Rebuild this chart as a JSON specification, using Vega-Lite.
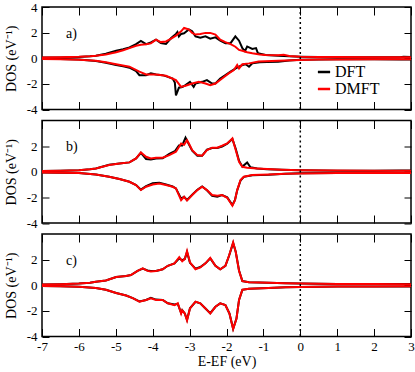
{
"$schema": "https://vega.github.io/schema/vega-lite/v6.json",
"padding": {"left": 3, "top": 0, "right": 5, "bottom": 5},
"spacing": 10.5,
"bounds": "flush",
"datasets": {"dos": [
{"p":"a","m":"DFT","s":"u","x":-7,"y":0.05},{"p":"a","m":"DFT","s":"u","x":-6.5,"y":0.06},{"p":"a","m":"DFT","s":"u","x":-6,"y":0.1},{"p":"a","m":"DFT","s":"u","x":-5.7,"y":0.15},{"p":"a","m":"DFT","s":"u","x":-5.54,"y":0.2},{"p":"a","m":"DFT","s":"u","x":-5.27,"y":0.35},{"p":"a","m":"DFT","s":"u","x":-4.99,"y":0.58},{"p":"a","m":"DFT","s":"u","x":-4.8,"y":0.7},{"p":"a","m":"DFT","s":"u","x":-4.63,"y":0.84},{"p":"a","m":"DFT","s":"u","x":-4.45,"y":1.1},{"p":"a","m":"DFT","s":"u","x":-4.32,"y":1.35},{"p":"a","m":"DFT","s":"u","x":-4.18,"y":1.1},{"p":"a","m":"DFT","s":"u","x":-4.05,"y":1.23},{"p":"a","m":"DFT","s":"u","x":-3.91,"y":1.45},{"p":"a","m":"DFT","s":"u","x":-3.78,"y":1.18},{"p":"a","m":"DFT","s":"u","x":-3.64,"y":1.12},{"p":"a","m":"DFT","s":"u","x":-3.5,"y":1.58},{"p":"a","m":"DFT","s":"u","x":-3.37,"y":1.9},{"p":"a","m":"DFT","s":"u","x":-3.33,"y":2.05},{"p":"a","m":"DFT","s":"u","x":-3.29,"y":1.7},{"p":"a","m":"DFT","s":"u","x":-3.23,"y":1.9},{"p":"a","m":"DFT","s":"u","x":-3.15,"y":1.95},{"p":"a","m":"DFT","s":"u","x":-3.02,"y":2.24},{"p":"a","m":"DFT","s":"u","x":-2.93,"y":2.1},{"p":"a","m":"DFT","s":"u","x":-2.84,"y":1.71},{"p":"a","m":"DFT","s":"u","x":-2.71,"y":1.6},{"p":"a","m":"DFT","s":"u","x":-2.57,"y":1.71},{"p":"a","m":"DFT","s":"u","x":-2.44,"y":1.53},{"p":"a","m":"DFT","s":"u","x":-2.3,"y":1.63},{"p":"a","m":"DFT","s":"u","x":-2.17,"y":1.37},{"p":"a","m":"DFT","s":"u","x":-2.03,"y":1.18},{"p":"a","m":"DFT","s":"u","x":-1.89,"y":1.18},{"p":"a","m":"DFT","s":"u","x":-1.76,"y":1.71},{"p":"a","m":"DFT","s":"u","x":-1.66,"y":1.37},{"p":"a","m":"DFT","s":"u","x":-1.57,"y":0.79},{"p":"a","m":"DFT","s":"u","x":-1.5,"y":0.55},{"p":"a","m":"DFT","s":"u","x":-1.44,"y":0.92},{"p":"a","m":"DFT","s":"u","x":-1.3,"y":0.73},{"p":"a","m":"DFT","s":"u","x":-1.2,"y":0.79},{"p":"a","m":"DFT","s":"u","x":-1.15,"y":0.4},{"p":"a","m":"DFT","s":"u","x":-0.94,"y":0.26},{"p":"a","m":"DFT","s":"u","x":-0.6,"y":0.2},{"p":"a","m":"DFT","s":"u","x":-0.3,"y":0.15},{"p":"a","m":"DFT","s":"u","x":0,"y":0.12},{"p":"a","m":"DFT","s":"u","x":0.5,"y":0.1},{"p":"a","m":"DFT","s":"u","x":1,"y":0.08},{"p":"a","m":"DFT","s":"u","x":2,"y":0.07},{"p":"a","m":"DFT","s":"u","x":2.7,"y":0.08},{"p":"a","m":"DFT","s":"u","x":2.8,"y":0.12},{"p":"a","m":"DFT","s":"u","x":3,"y":0.1},
{"p":"a","m":"DMFT","s":"u","x":-7,"y":0.05},{"p":"a","m":"DMFT","s":"u","x":-6.5,"y":0.07},{"p":"a","m":"DMFT","s":"u","x":-6,"y":0.11},{"p":"a","m":"DMFT","s":"u","x":-5.7,"y":0.16},{"p":"a","m":"DMFT","s":"u","x":-5.54,"y":0.2},{"p":"a","m":"DMFT","s":"u","x":-5.27,"y":0.3},{"p":"a","m":"DMFT","s":"u","x":-4.99,"y":0.47},{"p":"a","m":"DMFT","s":"u","x":-4.8,"y":0.62},{"p":"a","m":"DMFT","s":"u","x":-4.63,"y":0.79},{"p":"a","m":"DMFT","s":"u","x":-4.45,"y":0.98},{"p":"a","m":"DMFT","s":"u","x":-4.32,"y":1.05},{"p":"a","m":"DMFT","s":"u","x":-4.18,"y":1.1},{"p":"a","m":"DMFT","s":"u","x":-4.05,"y":1.16},{"p":"a","m":"DMFT","s":"u","x":-3.91,"y":1.45},{"p":"a","m":"DMFT","s":"u","x":-3.78,"y":1.26},{"p":"a","m":"DMFT","s":"u","x":-3.64,"y":1.31},{"p":"a","m":"DMFT","s":"u","x":-3.5,"y":1.53},{"p":"a","m":"DMFT","s":"u","x":-3.37,"y":1.77},{"p":"a","m":"DMFT","s":"u","x":-3.23,"y":2.1},{"p":"a","m":"DMFT","s":"u","x":-3.15,"y":2.37},{"p":"a","m":"DMFT","s":"u","x":-3.08,"y":2.3},{"p":"a","m":"DMFT","s":"u","x":-3.02,"y":2.24},{"p":"a","m":"DMFT","s":"u","x":-2.93,"y":1.98},{"p":"a","m":"DMFT","s":"u","x":-2.84,"y":1.85},{"p":"a","m":"DMFT","s":"u","x":-2.71,"y":1.9},{"p":"a","m":"DMFT","s":"u","x":-2.57,"y":1.98},{"p":"a","m":"DMFT","s":"u","x":-2.44,"y":1.98},{"p":"a","m":"DMFT","s":"u","x":-2.3,"y":1.85},{"p":"a","m":"DMFT","s":"u","x":-2.17,"y":1.45},{"p":"a","m":"DMFT","s":"u","x":-2.03,"y":1.26},{"p":"a","m":"DMFT","s":"u","x":-1.89,"y":1.1},{"p":"a","m":"DMFT","s":"u","x":-1.76,"y":0.9},{"p":"a","m":"DMFT","s":"u","x":-1.66,"y":0.65},{"p":"a","m":"DMFT","s":"u","x":-1.57,"y":0.58},{"p":"a","m":"DMFT","s":"u","x":-1.44,"y":0.47},{"p":"a","m":"DMFT","s":"u","x":-1.3,"y":0.39},{"p":"a","m":"DMFT","s":"u","x":-1.1,"y":0.3},{"p":"a","m":"DMFT","s":"u","x":-0.94,"y":0.26},{"p":"a","m":"DMFT","s":"u","x":-0.6,"y":0.24},{"p":"a","m":"DMFT","s":"u","x":-0.45,"y":0.28},{"p":"a","m":"DMFT","s":"u","x":-0.3,"y":0.18},{"p":"a","m":"DMFT","s":"u","x":0,"y":0.12},{"p":"a","m":"DMFT","s":"u","x":0.5,"y":0.1},{"p":"a","m":"DMFT","s":"u","x":1,"y":0.09},{"p":"a","m":"DMFT","s":"u","x":2,"y":0.08},{"p":"a","m":"DMFT","s":"u","x":3,"y":0.08},
{"p":"a","m":"DFT","s":"d","x":-7,"y":-0.05},{"p":"a","m":"DFT","s":"d","x":-6.5,"y":-0.06},{"p":"a","m":"DFT","s":"d","x":-6,"y":-0.1},{"p":"a","m":"DFT","s":"d","x":-5.54,"y":-0.22},{"p":"a","m":"DFT","s":"d","x":-5.27,"y":-0.35},{"p":"a","m":"DFT","s":"d","x":-4.99,"y":-0.53},{"p":"a","m":"DFT","s":"d","x":-4.8,"y":-0.63},{"p":"a","m":"DFT","s":"d","x":-4.63,"y":-0.74},{"p":"a","m":"DFT","s":"d","x":-4.45,"y":-1.0},{"p":"a","m":"DFT","s":"d","x":-4.36,"y":-1.32},{"p":"a","m":"DFT","s":"d","x":-4.18,"y":-1.32},{"p":"a","m":"DFT","s":"d","x":-4.05,"y":-1.18},{"p":"a","m":"DFT","s":"d","x":-3.91,"y":-1.26},{"p":"a","m":"DFT","s":"d","x":-3.73,"y":-1.32},{"p":"a","m":"DFT","s":"d","x":-3.59,"y":-1.45},{"p":"a","m":"DFT","s":"d","x":-3.46,"y":-1.58},{"p":"a","m":"DFT","s":"d","x":-3.4,"y":-1.9},{"p":"a","m":"DFT","s":"d","x":-3.37,"y":-2.9},{"p":"a","m":"DFT","s":"d","x":-3.33,"y":-2.6},{"p":"a","m":"DFT","s":"d","x":-3.29,"y":-2.3},{"p":"a","m":"DFT","s":"d","x":-3.2,"y":-2.24},{"p":"a","m":"DFT","s":"d","x":-3.11,"y":-2.1},{"p":"a","m":"DFT","s":"d","x":-2.99,"y":-1.84},{"p":"a","m":"DFT","s":"d","x":-2.89,"y":-2.24},{"p":"a","m":"DFT","s":"d","x":-2.84,"y":-1.97},{"p":"a","m":"DFT","s":"d","x":-2.66,"y":-1.84},{"p":"a","m":"DFT","s":"d","x":-2.53,"y":-1.71},{"p":"a","m":"DFT","s":"d","x":-2.39,"y":-1.97},{"p":"a","m":"DFT","s":"d","x":-2.3,"y":-1.97},{"p":"a","m":"DFT","s":"d","x":-2.17,"y":-1.58},{"p":"a","m":"DFT","s":"d","x":-2.03,"y":-1.32},{"p":"a","m":"DFT","s":"d","x":-1.89,"y":-1.05},{"p":"a","m":"DFT","s":"d","x":-1.75,"y":-0.79},{"p":"a","m":"DFT","s":"d","x":-1.66,"y":-0.66},{"p":"a","m":"DFT","s":"d","x":-1.57,"y":-0.53},{"p":"a","m":"DFT","s":"d","x":-1.48,"y":-0.47},{"p":"a","m":"DFT","s":"d","x":-1.39,"y":-0.66},{"p":"a","m":"DFT","s":"d","x":-1.3,"y":-0.4},{"p":"a","m":"DFT","s":"d","x":-1.1,"y":-0.32},{"p":"a","m":"DFT","s":"d","x":-0.9,"y":-0.3},{"p":"a","m":"DFT","s":"d","x":-0.6,"y":-0.28},{"p":"a","m":"DFT","s":"d","x":-0.3,"y":-0.18},{"p":"a","m":"DFT","s":"d","x":0,"y":-0.12},{"p":"a","m":"DFT","s":"d","x":1,"y":-0.08},{"p":"a","m":"DFT","s":"d","x":2,"y":-0.07},{"p":"a","m":"DFT","s":"d","x":2.75,"y":-0.09},{"p":"a","m":"DFT","s":"d","x":3,"y":-0.1},
{"p":"a","m":"DMFT","s":"d","x":-7,"y":-0.05},{"p":"a","m":"DMFT","s":"d","x":-6.5,"y":-0.07},{"p":"a","m":"DMFT","s":"d","x":-6,"y":-0.11},{"p":"a","m":"DMFT","s":"d","x":-5.54,"y":-0.2},{"p":"a","m":"DMFT","s":"d","x":-5.27,"y":-0.32},{"p":"a","m":"DMFT","s":"d","x":-4.99,"y":-0.47},{"p":"a","m":"DMFT","s":"d","x":-4.63,"y":-0.66},{"p":"a","m":"DMFT","s":"d","x":-4.36,"y":-1.05},{"p":"a","m":"DMFT","s":"d","x":-4.18,"y":-1.26},{"p":"a","m":"DMFT","s":"d","x":-3.91,"y":-1.26},{"p":"a","m":"DMFT","s":"d","x":-3.64,"y":-1.37},{"p":"a","m":"DMFT","s":"d","x":-3.37,"y":-1.71},{"p":"a","m":"DMFT","s":"d","x":-3.23,"y":-2.24},{"p":"a","m":"DMFT","s":"d","x":-3.11,"y":-2.15},{"p":"a","m":"DMFT","s":"d","x":-2.93,"y":-1.97},{"p":"a","m":"DMFT","s":"d","x":-2.75,"y":-1.84},{"p":"a","m":"DMFT","s":"d","x":-2.57,"y":-1.97},{"p":"a","m":"DMFT","s":"d","x":-2.44,"y":-2.1},{"p":"a","m":"DMFT","s":"d","x":-2.3,"y":-1.97},{"p":"a","m":"DMFT","s":"d","x":-2.12,"y":-1.58},{"p":"a","m":"DMFT","s":"d","x":-1.94,"y":-1.18},{"p":"a","m":"DMFT","s":"d","x":-1.8,"y":-0.92},{"p":"a","m":"DMFT","s":"d","x":-1.71,"y":-0.53},{"p":"a","m":"DMFT","s":"d","x":-1.66,"y":-0.79},{"p":"a","m":"DMFT","s":"d","x":-1.57,"y":-0.47},{"p":"a","m":"DMFT","s":"d","x":-1.39,"y":-0.4},{"p":"a","m":"DMFT","s":"d","x":-1.13,"y":-0.26},{"p":"a","m":"DMFT","s":"d","x":-0.6,"y":-0.2},{"p":"a","m":"DMFT","s":"d","x":0,"y":-0.14},{"p":"a","m":"DMFT","s":"d","x":0.5,"y":-0.1},{"p":"a","m":"DMFT","s":"d","x":1,"y":-0.09},{"p":"a","m":"DMFT","s":"d","x":2,"y":-0.08},{"p":"a","m":"DMFT","s":"d","x":3,"y":-0.08},
{"p":"b","m":"DFT","s":"u","x":-7,"y":0.05},{"p":"b","m":"DFT","s":"u","x":-6.5,"y":0.07},{"p":"b","m":"DFT","s":"u","x":-6,"y":0.12},{"p":"b","m":"DFT","s":"u","x":-5.7,"y":0.2},{"p":"b","m":"DFT","s":"u","x":-5.54,"y":0.26},{"p":"b","m":"DFT","s":"u","x":-5.18,"y":0.55},{"p":"b","m":"DFT","s":"u","x":-4.9,"y":0.65},{"p":"b","m":"DFT","s":"u","x":-4.63,"y":0.73},{"p":"b","m":"DFT","s":"u","x":-4.45,"y":1.04},{"p":"b","m":"DFT","s":"u","x":-4.32,"y":1.48},{"p":"b","m":"DFT","s":"u","x":-4.18,"y":1.0},{"p":"b","m":"DFT","s":"u","x":-4.05,"y":0.95},{"p":"b","m":"DFT","s":"u","x":-3.91,"y":1.04},{"p":"b","m":"DFT","s":"u","x":-3.73,"y":1.05},{"p":"b","m":"DFT","s":"u","x":-3.55,"y":1.4},{"p":"b","m":"DFT","s":"u","x":-3.4,"y":1.6},{"p":"b","m":"DFT","s":"u","x":-3.29,"y":2.05},{"p":"b","m":"DFT","s":"u","x":-3.2,"y":2.05},{"p":"b","m":"DFT","s":"u","x":-3.11,"y":2.66},{"p":"b","m":"DFT","s":"u","x":-3.02,"y":2.15},{"p":"b","m":"DFT","s":"u","x":-2.93,"y":1.65},{"p":"b","m":"DFT","s":"u","x":-2.79,"y":1.25},{"p":"b","m":"DFT","s":"u","x":-2.66,"y":1.25},{"p":"b","m":"DFT","s":"u","x":-2.53,"y":1.72},{"p":"b","m":"DFT","s":"u","x":-2.39,"y":1.85},{"p":"b","m":"DFT","s":"u","x":-2.25,"y":1.85},{"p":"b","m":"DFT","s":"u","x":-2.12,"y":1.97},{"p":"b","m":"DFT","s":"u","x":-1.98,"y":2.2},{"p":"b","m":"DFT","s":"u","x":-1.84,"y":2.55},{"p":"b","m":"DFT","s":"u","x":-1.75,"y":1.8},{"p":"b","m":"DFT","s":"u","x":-1.66,"y":0.85},{"p":"b","m":"DFT","s":"u","x":-1.57,"y":0.4},{"p":"b","m":"DFT","s":"u","x":-1.44,"y":0.73},{"p":"b","m":"DFT","s":"u","x":-1.35,"y":0.35},{"p":"b","m":"DFT","s":"u","x":-1.17,"y":0.25},{"p":"b","m":"DFT","s":"u","x":-0.9,"y":0.2},{"p":"b","m":"DFT","s":"u","x":-0.5,"y":0.15},{"p":"b","m":"DFT","s":"u","x":0,"y":0.11},{"p":"b","m":"DFT","s":"u","x":1,"y":0.08},{"p":"b","m":"DFT","s":"u","x":2,"y":0.07},{"p":"b","m":"DFT","s":"u","x":2.75,"y":0.09},{"p":"b","m":"DFT","s":"u","x":3,"y":0.1},
{"p":"b","m":"DMFT","s":"u","x":-7,"y":0.05},{"p":"b","m":"DMFT","s":"u","x":-6.5,"y":0.07},{"p":"b","m":"DMFT","s":"u","x":-6,"y":0.12},{"p":"b","m":"DMFT","s":"u","x":-5.7,"y":0.2},{"p":"b","m":"DMFT","s":"u","x":-5.54,"y":0.26},{"p":"b","m":"DMFT","s":"u","x":-5.18,"y":0.52},{"p":"b","m":"DMFT","s":"u","x":-4.9,"y":0.65},{"p":"b","m":"DMFT","s":"u","x":-4.63,"y":0.73},{"p":"b","m":"DMFT","s":"u","x":-4.45,"y":1.04},{"p":"b","m":"DMFT","s":"u","x":-4.32,"y":1.51},{"p":"b","m":"DMFT","s":"u","x":-4.18,"y":1.17},{"p":"b","m":"DMFT","s":"u","x":-4.05,"y":1.04},{"p":"b","m":"DMFT","s":"u","x":-3.91,"y":1.09},{"p":"b","m":"DMFT","s":"u","x":-3.73,"y":1.09},{"p":"b","m":"DMFT","s":"u","x":-3.55,"y":1.3},{"p":"b","m":"DMFT","s":"u","x":-3.37,"y":1.56},{"p":"b","m":"DMFT","s":"u","x":-3.23,"y":2.2},{"p":"b","m":"DMFT","s":"u","x":-3.15,"y":2.1},{"p":"b","m":"DMFT","s":"u","x":-3.07,"y":2.47},{"p":"b","m":"DMFT","s":"u","x":-3.02,"y":2.21},{"p":"b","m":"DMFT","s":"u","x":-2.93,"y":1.69},{"p":"b","m":"DMFT","s":"u","x":-2.79,"y":1.3},{"p":"b","m":"DMFT","s":"u","x":-2.66,"y":1.25},{"p":"b","m":"DMFT","s":"u","x":-2.53,"y":1.69},{"p":"b","m":"DMFT","s":"u","x":-2.39,"y":1.88},{"p":"b","m":"DMFT","s":"u","x":-2.25,"y":1.88},{"p":"b","m":"DMFT","s":"u","x":-2.12,"y":2.03},{"p":"b","m":"DMFT","s":"u","x":-1.98,"y":2.21},{"p":"b","m":"DMFT","s":"u","x":-1.84,"y":2.6},{"p":"b","m":"DMFT","s":"u","x":-1.75,"y":1.69},{"p":"b","m":"DMFT","s":"u","x":-1.66,"y":0.78},{"p":"b","m":"DMFT","s":"u","x":-1.57,"y":0.39},{"p":"b","m":"DMFT","s":"u","x":-1.44,"y":0.31},{"p":"b","m":"DMFT","s":"u","x":-1.17,"y":0.26},{"p":"b","m":"DMFT","s":"u","x":-0.9,"y":0.21},{"p":"b","m":"DMFT","s":"u","x":-0.5,"y":0.16},{"p":"b","m":"DMFT","s":"u","x":0,"y":0.12},{"p":"b","m":"DMFT","s":"u","x":1,"y":0.09},{"p":"b","m":"DMFT","s":"u","x":2,"y":0.08},{"p":"b","m":"DMFT","s":"u","x":3,"y":0.08},
{"p":"b","m":"DFT","s":"d","x":-7,"y":-0.05},{"p":"b","m":"DFT","s":"d","x":-6.5,"y":-0.07},{"p":"b","m":"DFT","s":"d","x":-6,"y":-0.1},{"p":"b","m":"DFT","s":"d","x":-5.54,"y":-0.21},{"p":"b","m":"DFT","s":"d","x":-5.18,"y":-0.39},{"p":"b","m":"DFT","s":"d","x":-4.9,"y":-0.57},{"p":"b","m":"DFT","s":"d","x":-4.63,"y":-0.78},{"p":"b","m":"DFT","s":"d","x":-4.45,"y":-1.04},{"p":"b","m":"DFT","s":"d","x":-4.32,"y":-1.4},{"p":"b","m":"DFT","s":"d","x":-4.18,"y":-1.12},{"p":"b","m":"DFT","s":"d","x":-4.0,"y":-0.9},{"p":"b","m":"DFT","s":"d","x":-3.82,"y":-0.85},{"p":"b","m":"DFT","s":"d","x":-3.64,"y":-1.0},{"p":"b","m":"DFT","s":"d","x":-3.46,"y":-1.15},{"p":"b","m":"DFT","s":"d","x":-3.37,"y":-1.3},{"p":"b","m":"DFT","s":"d","x":-3.23,"y":-2.1},{"p":"b","m":"DFT","s":"d","x":-3.15,"y":-1.95},{"p":"b","m":"DFT","s":"d","x":-3.07,"y":-2.2},{"p":"b","m":"DFT","s":"d","x":-2.93,"y":-1.8},{"p":"b","m":"DFT","s":"d","x":-2.79,"y":-1.4},{"p":"b","m":"DFT","s":"d","x":-2.66,"y":-1.15},{"p":"b","m":"DFT","s":"d","x":-2.53,"y":-1.45},{"p":"b","m":"DFT","s":"d","x":-2.39,"y":-1.88},{"p":"b","m":"DFT","s":"d","x":-2.25,"y":-1.95},{"p":"b","m":"DFT","s":"d","x":-2.12,"y":-1.82},{"p":"b","m":"DFT","s":"d","x":-1.98,"y":-2.0},{"p":"b","m":"DFT","s":"d","x":-1.84,"y":-2.6},{"p":"b","m":"DFT","s":"d","x":-1.77,"y":-2.2},{"p":"b","m":"DFT","s":"d","x":-1.71,"y":-1.45},{"p":"b","m":"DFT","s":"d","x":-1.62,"y":-0.68},{"p":"b","m":"DFT","s":"d","x":-1.53,"y":-0.4},{"p":"b","m":"DFT","s":"d","x":-1.3,"y":-0.27},{"p":"b","m":"DFT","s":"d","x":-0.86,"y":-0.24},{"p":"b","m":"DFT","s":"d","x":-0.4,"y":-0.16},{"p":"b","m":"DFT","s":"d","x":0,"y":-0.12},{"p":"b","m":"DFT","s":"d","x":1,"y":-0.09},{"p":"b","m":"DFT","s":"d","x":2,"y":-0.08},{"p":"b","m":"DFT","s":"d","x":3,"y":-0.09},
{"p":"b","m":"DMFT","s":"d","x":-7,"y":-0.05},{"p":"b","m":"DMFT","s":"d","x":-6.5,"y":-0.07},{"p":"b","m":"DMFT","s":"d","x":-6,"y":-0.1},{"p":"b","m":"DMFT","s":"d","x":-5.54,"y":-0.21},{"p":"b","m":"DMFT","s":"d","x":-5.18,"y":-0.39},{"p":"b","m":"DMFT","s":"d","x":-4.9,"y":-0.57},{"p":"b","m":"DMFT","s":"d","x":-4.63,"y":-0.78},{"p":"b","m":"DMFT","s":"d","x":-4.45,"y":-1.04},{"p":"b","m":"DMFT","s":"d","x":-4.32,"y":-1.43},{"p":"b","m":"DMFT","s":"d","x":-4.18,"y":-1.17},{"p":"b","m":"DMFT","s":"d","x":-4.0,"y":-0.99},{"p":"b","m":"DMFT","s":"d","x":-3.82,"y":-0.91},{"p":"b","m":"DMFT","s":"d","x":-3.64,"y":-1.04},{"p":"b","m":"DMFT","s":"d","x":-3.46,"y":-1.17},{"p":"b","m":"DMFT","s":"d","x":-3.37,"y":-1.3},{"p":"b","m":"DMFT","s":"d","x":-3.23,"y":-2.21},{"p":"b","m":"DMFT","s":"d","x":-3.15,"y":-1.95},{"p":"b","m":"DMFT","s":"d","x":-3.07,"y":-2.25},{"p":"b","m":"DMFT","s":"d","x":-2.93,"y":-1.82},{"p":"b","m":"DMFT","s":"d","x":-2.79,"y":-1.43},{"p":"b","m":"DMFT","s":"d","x":-2.66,"y":-1.17},{"p":"b","m":"DMFT","s":"d","x":-2.53,"y":-1.43},{"p":"b","m":"DMFT","s":"d","x":-2.39,"y":-1.82},{"p":"b","m":"DMFT","s":"d","x":-2.25,"y":-1.88},{"p":"b","m":"DMFT","s":"d","x":-2.12,"y":-1.82},{"p":"b","m":"DMFT","s":"d","x":-1.98,"y":-2.03},{"p":"b","m":"DMFT","s":"d","x":-1.84,"y":-2.65},{"p":"b","m":"DMFT","s":"d","x":-1.77,"y":-2.21},{"p":"b","m":"DMFT","s":"d","x":-1.71,"y":-1.43},{"p":"b","m":"DMFT","s":"d","x":-1.62,"y":-0.65},{"p":"b","m":"DMFT","s":"d","x":-1.53,"y":-0.39},{"p":"b","m":"DMFT","s":"d","x":-1.3,"y":-0.26},{"p":"b","m":"DMFT","s":"d","x":-0.86,"y":-0.21},{"p":"b","m":"DMFT","s":"d","x":-0.4,"y":-0.16},{"p":"b","m":"DMFT","s":"d","x":0,"y":-0.13},{"p":"b","m":"DMFT","s":"d","x":1,"y":-0.1},{"p":"b","m":"DMFT","s":"d","x":2,"y":-0.09},{"p":"b","m":"DMFT","s":"d","x":3,"y":-0.09},
{"p":"c","m":"DFT","s":"u","x":-7,"y":0.06},{"p":"c","m":"DFT","s":"u","x":-6.5,"y":0.08},{"p":"c","m":"DFT","s":"u","x":-6,"y":0.13},{"p":"c","m":"DFT","s":"u","x":-5.7,"y":0.2},{"p":"c","m":"DFT","s":"u","x":-5.54,"y":0.27},{"p":"c","m":"DFT","s":"u","x":-5.27,"y":0.37},{"p":"c","m":"DFT","s":"u","x":-4.99,"y":0.64},{"p":"c","m":"DFT","s":"u","x":-4.72,"y":0.72},{"p":"c","m":"DFT","s":"u","x":-4.59,"y":0.8},{"p":"c","m":"DFT","s":"u","x":-4.41,"y":1.12},{"p":"c","m":"DFT","s":"u","x":-4.27,"y":1.3},{"p":"c","m":"DFT","s":"u","x":-4.14,"y":1.15},{"p":"c","m":"DFT","s":"u","x":-4.05,"y":1.12},{"p":"c","m":"DFT","s":"u","x":-3.91,"y":1.12},{"p":"c","m":"DFT","s":"u","x":-3.73,"y":1.25},{"p":"c","m":"DFT","s":"u","x":-3.59,"y":1.52},{"p":"c","m":"DFT","s":"u","x":-3.41,"y":1.71},{"p":"c","m":"DFT","s":"u","x":-3.28,"y":2.1},{"p":"c","m":"DFT","s":"u","x":-3.2,"y":1.95},{"p":"c","m":"DFT","s":"u","x":-3.13,"y":2.05},{"p":"c","m":"DFT","s":"u","x":-3.07,"y":2.6},{"p":"c","m":"DFT","s":"u","x":-2.99,"y":1.75},{"p":"c","m":"DFT","s":"u","x":-2.84,"y":1.3},{"p":"c","m":"DFT","s":"u","x":-2.71,"y":1.42},{"p":"c","m":"DFT","s":"u","x":-2.57,"y":1.71},{"p":"c","m":"DFT","s":"u","x":-2.44,"y":2.1},{"p":"c","m":"DFT","s":"u","x":-2.3,"y":1.52},{"p":"c","m":"DFT","s":"u","x":-2.17,"y":1.25},{"p":"c","m":"DFT","s":"u","x":-2.03,"y":1.52},{"p":"c","m":"DFT","s":"u","x":-1.93,"y":2.3},{"p":"c","m":"DFT","s":"u","x":-1.82,"y":3.3},{"p":"c","m":"DFT","s":"u","x":-1.75,"y":2.62},{"p":"c","m":"DFT","s":"u","x":-1.66,"y":1.15},{"p":"c","m":"DFT","s":"u","x":-1.57,"y":0.33},{"p":"c","m":"DFT","s":"u","x":-1.39,"y":0.24},{"p":"c","m":"DFT","s":"u","x":-0.86,"y":0.19},{"p":"c","m":"DFT","s":"u","x":-0.4,"y":0.15},{"p":"c","m":"DFT","s":"u","x":0,"y":0.13},{"p":"c","m":"DFT","s":"u","x":1,"y":0.1},{"p":"c","m":"DFT","s":"u","x":2,"y":0.09},{"p":"c","m":"DFT","s":"u","x":2.75,"y":0.1},{"p":"c","m":"DFT","s":"u","x":3,"y":0.1},
{"p":"c","m":"DMFT","s":"u","x":-7,"y":0.05},{"p":"c","m":"DMFT","s":"u","x":-6.5,"y":0.08},{"p":"c","m":"DMFT","s":"u","x":-6,"y":0.13},{"p":"c","m":"DMFT","s":"u","x":-5.7,"y":0.2},{"p":"c","m":"DMFT","s":"u","x":-5.54,"y":0.27},{"p":"c","m":"DMFT","s":"u","x":-5.27,"y":0.37},{"p":"c","m":"DMFT","s":"u","x":-4.99,"y":0.64},{"p":"c","m":"DMFT","s":"u","x":-4.72,"y":0.72},{"p":"c","m":"DMFT","s":"u","x":-4.59,"y":0.8},{"p":"c","m":"DMFT","s":"u","x":-4.41,"y":1.12},{"p":"c","m":"DMFT","s":"u","x":-4.27,"y":1.31},{"p":"c","m":"DMFT","s":"u","x":-4.14,"y":1.12},{"p":"c","m":"DMFT","s":"u","x":-4.05,"y":1.07},{"p":"c","m":"DMFT","s":"u","x":-3.91,"y":1.12},{"p":"c","m":"DMFT","s":"u","x":-3.73,"y":1.25},{"p":"c","m":"DMFT","s":"u","x":-3.59,"y":1.52},{"p":"c","m":"DMFT","s":"u","x":-3.41,"y":1.71},{"p":"c","m":"DMFT","s":"u","x":-3.28,"y":2.19},{"p":"c","m":"DMFT","s":"u","x":-3.2,"y":1.87},{"p":"c","m":"DMFT","s":"u","x":-3.13,"y":2.05},{"p":"c","m":"DMFT","s":"u","x":-3.07,"y":2.67},{"p":"c","m":"DMFT","s":"u","x":-2.99,"y":1.79},{"p":"c","m":"DMFT","s":"u","x":-2.84,"y":1.25},{"p":"c","m":"DMFT","s":"u","x":-2.71,"y":1.39},{"p":"c","m":"DMFT","s":"u","x":-2.57,"y":1.71},{"p":"c","m":"DMFT","s":"u","x":-2.44,"y":2.13},{"p":"c","m":"DMFT","s":"u","x":-2.3,"y":1.52},{"p":"c","m":"DMFT","s":"u","x":-2.17,"y":1.25},{"p":"c","m":"DMFT","s":"u","x":-2.03,"y":1.52},{"p":"c","m":"DMFT","s":"u","x":-1.93,"y":2.32},{"p":"c","m":"DMFT","s":"u","x":-1.82,"y":3.35},{"p":"c","m":"DMFT","s":"u","x":-1.75,"y":2.59},{"p":"c","m":"DMFT","s":"u","x":-1.66,"y":1.12},{"p":"c","m":"DMFT","s":"u","x":-1.57,"y":0.32},{"p":"c","m":"DMFT","s":"u","x":-1.39,"y":0.24},{"p":"c","m":"DMFT","s":"u","x":-0.86,"y":0.19},{"p":"c","m":"DMFT","s":"u","x":-0.4,"y":0.15},{"p":"c","m":"DMFT","s":"u","x":0,"y":0.13},{"p":"c","m":"DMFT","s":"u","x":1,"y":0.1},{"p":"c","m":"DMFT","s":"u","x":2,"y":0.09},{"p":"c","m":"DMFT","s":"u","x":3,"y":0.08},
{"p":"c","m":"DFT","s":"d","x":-7,"y":-0.06},{"p":"c","m":"DFT","s":"d","x":-6.5,"y":-0.08},{"p":"c","m":"DFT","s":"d","x":-6,"y":-0.12},{"p":"c","m":"DFT","s":"d","x":-5.54,"y":-0.21},{"p":"c","m":"DFT","s":"d","x":-5.27,"y":-0.35},{"p":"c","m":"DFT","s":"d","x":-4.99,"y":-0.61},{"p":"c","m":"DFT","s":"d","x":-4.72,"y":-0.8},{"p":"c","m":"DFT","s":"d","x":-4.54,"y":-1.01},{"p":"c","m":"DFT","s":"d","x":-4.36,"y":-1.26},{"p":"c","m":"DFT","s":"d","x":-4.18,"y":-1.15},{"p":"c","m":"DFT","s":"d","x":-4.05,"y":-0.98},{"p":"c","m":"DFT","s":"d","x":-3.91,"y":-1.12},{"p":"c","m":"DFT","s":"d","x":-3.73,"y":-1.15},{"p":"c","m":"DFT","s":"d","x":-3.59,"y":-1.41},{"p":"c","m":"DFT","s":"d","x":-3.41,"y":-1.5},{"p":"c","m":"DFT","s":"d","x":-3.32,"y":-1.45},{"p":"c","m":"DFT","s":"d","x":-3.23,"y":-2.15},{"p":"c","m":"DFT","s":"d","x":-3.2,"y":-1.95},{"p":"c","m":"DFT","s":"d","x":-3.13,"y":-2.2},{"p":"c","m":"DFT","s":"d","x":-3.07,"y":-2.7},{"p":"c","m":"DFT","s":"d","x":-2.99,"y":-1.8},{"p":"c","m":"DFT","s":"d","x":-2.84,"y":-1.3},{"p":"c","m":"DFT","s":"d","x":-2.71,"y":-1.41},{"p":"c","m":"DFT","s":"d","x":-2.57,"y":-1.81},{"p":"c","m":"DFT","s":"d","x":-2.44,"y":-2.18},{"p":"c","m":"DFT","s":"d","x":-2.3,"y":-1.68},{"p":"c","m":"DFT","s":"d","x":-2.17,"y":-1.41},{"p":"c","m":"DFT","s":"d","x":-2.03,"y":-1.55},{"p":"c","m":"DFT","s":"d","x":-1.92,"y":-2.2},{"p":"c","m":"DFT","s":"d","x":-1.82,"y":-3.4},{"p":"c","m":"DFT","s":"d","x":-1.73,"y":-2.6},{"p":"c","m":"DFT","s":"d","x":-1.66,"y":-1.15},{"p":"c","m":"DFT","s":"d","x":-1.57,"y":-0.36},{"p":"c","m":"DFT","s":"d","x":-1.39,"y":-0.27},{"p":"c","m":"DFT","s":"d","x":-0.86,"y":-0.21},{"p":"c","m":"DFT","s":"d","x":-0.4,"y":-0.16},{"p":"c","m":"DFT","s":"d","x":0,"y":-0.14},{"p":"c","m":"DFT","s":"d","x":1,"y":-0.1},{"p":"c","m":"DFT","s":"d","x":2,"y":-0.09},{"p":"c","m":"DFT","s":"d","x":2.75,"y":-0.1},{"p":"c","m":"DFT","s":"d","x":3,"y":-0.1},
{"p":"c","m":"DMFT","s":"d","x":-7,"y":-0.05},{"p":"c","m":"DMFT","s":"d","x":-6.5,"y":-0.08},{"p":"c","m":"DMFT","s":"d","x":-6,"y":-0.12},{"p":"c","m":"DMFT","s":"d","x":-5.54,"y":-0.21},{"p":"c","m":"DMFT","s":"d","x":-5.27,"y":-0.35},{"p":"c","m":"DMFT","s":"d","x":-4.99,"y":-0.61},{"p":"c","m":"DMFT","s":"d","x":-4.72,"y":-0.8},{"p":"c","m":"DMFT","s":"d","x":-4.54,"y":-1.01},{"p":"c","m":"DMFT","s":"d","x":-4.36,"y":-1.28},{"p":"c","m":"DMFT","s":"d","x":-4.18,"y":-1.15},{"p":"c","m":"DMFT","s":"d","x":-4.05,"y":-1.01},{"p":"c","m":"DMFT","s":"d","x":-3.91,"y":-1.15},{"p":"c","m":"DMFT","s":"d","x":-3.73,"y":-1.15},{"p":"c","m":"DMFT","s":"d","x":-3.59,"y":-1.41},{"p":"c","m":"DMFT","s":"d","x":-3.41,"y":-1.55},{"p":"c","m":"DMFT","s":"d","x":-3.32,"y":-1.41},{"p":"c","m":"DMFT","s":"d","x":-3.23,"y":-2.21},{"p":"c","m":"DMFT","s":"d","x":-3.2,"y":-1.95},{"p":"c","m":"DMFT","s":"d","x":-3.13,"y":-2.21},{"p":"c","m":"DMFT","s":"d","x":-3.07,"y":-2.75},{"p":"c","m":"DMFT","s":"d","x":-2.99,"y":-1.81},{"p":"c","m":"DMFT","s":"d","x":-2.84,"y":-1.28},{"p":"c","m":"DMFT","s":"d","x":-2.71,"y":-1.41},{"p":"c","m":"DMFT","s":"d","x":-2.57,"y":-1.81},{"p":"c","m":"DMFT","s":"d","x":-2.44,"y":-2.21},{"p":"c","m":"DMFT","s":"d","x":-2.3,"y":-1.68},{"p":"c","m":"DMFT","s":"d","x":-2.17,"y":-1.41},{"p":"c","m":"DMFT","s":"d","x":-2.03,"y":-1.55},{"p":"c","m":"DMFT","s":"d","x":-1.92,"y":-2.21},{"p":"c","m":"DMFT","s":"d","x":-1.82,"y":-3.42},{"p":"c","m":"DMFT","s":"d","x":-1.73,"y":-2.61},{"p":"c","m":"DMFT","s":"d","x":-1.66,"y":-1.15},{"p":"c","m":"DMFT","s":"d","x":-1.57,"y":-0.35},{"p":"c","m":"DMFT","s":"d","x":-1.39,"y":-0.27},{"p":"c","m":"DMFT","s":"d","x":-0.86,"y":-0.21},{"p":"c","m":"DMFT","s":"d","x":-0.4,"y":-0.16},{"p":"c","m":"DMFT","s":"d","x":0,"y":-0.14},{"p":"c","m":"DMFT","s":"d","x":1,"y":-0.1},{"p":"c","m":"DMFT","s":"d","x":2,"y":-0.09},{"p":"c","m":"DMFT","s":"d","x":3,"y":-0.08}
]},
"data": {"name": "dos"},
"vconcat": [
{"width": 369, "height": 102.5,
 "encoding": {
   "color": {"field": "m", "type": "nominal", "scale": {"domain": ["DFT", "DMFT"], "range": ["#000000", "#ff0000"]},
     "legend": {"orient": "none", "legendX": 274, "legendY": 57, "title": null, "symbolType": "stroke", "symbolSize": 150, "symbolStrokeWidth": 2.5, "labelFontSize": 16, "labelFont": "Liberation Serif", "labelOffset": 3, "rowPadding": 1, "padding": 0}},
   "detail": {"field": "s", "type": "nominal"}
 },
 "layer": [
  {"transform": [{"filter": "datum.p === 'a' && datum.m === 'DFT'"}], "mark": {"type": "line", "strokeWidth": 2},
   "encoding": {
    "x": {"field": "x", "type": "quantitative", "scale": {"domain": [-7, 3], "nice": false, "zero": false},
      "axis": {"values": [-7,-6,-5,-4,-3,-2,-1,0,1,2,3], "labels": false, "title": null, "gridDash": [8, 86.5, 8, 500]}},
    "y": {"field": "y", "type": "quantitative", "scale": {"domain": [-4, 4], "nice": false, "zero": false},
      "axis": {"values": [-4,-2,0,2,4], "labelExpr": "'' + datum.value", "title": "DOS (eV⁻¹)", "labelPadding": 5, "titlePadding": 8, "gridDash": [7, 355, 7, 800]}}
   }},
  {"transform": [{"filter": "datum.p === 'a' && datum.m === 'DMFT'"}], "mark": {"type": "line", "strokeWidth": 2},
   "encoding": {
    "x": {"field": "x", "type": "quantitative", "scale": {"domain": [-7, 3], "nice": false, "zero": false},
      "axis": {"orient": "top", "values": [-6.5,-5.5,-4.5,-3.5,-2.5,-1.5,-0.5,0.5,1.5,2.5], "labels": false, "title": null, "gridDash": [4, 94.5, 4, 500]}},
    "y": {"field": "y", "type": "quantitative", "scale": {"domain": [-4, 4], "nice": false, "zero": false},
      "axis": {"orient": "right", "values": [-3,-1,1,3], "labels": false, "title": null, "gridDash": [4, 361, 4, 800]}}
   }},
  {"data": {"values": [{}]}, "mark": {"type": "rule", "color": "black", "strokeWidth": 1.5, "strokeDash": [2, 3]}, "encoding": {"x": {"datum": 0, "axis": null}, "color": {"value": "black"}, "detail": {"value": 1}}},
  {"data": {"values": [{}]}, "mark": {"type": "text", "font": "Liberation Serif", "fontSize": 14, "align": "left", "baseline": "middle", "color": "black"}, "encoding": {"x": {"datum": -6.35, "axis": null}, "y": {"datum": 1.9, "axis": null}, "text": {"value": "a)"}, "color": {"value": "black"}, "detail": {"value": 1}}}
 ],
 "resolve": {"axis": {"x": "independent", "y": "independent"}}
},
{"width": 369, "height": 102.5,
 "encoding": {
   "color": {"field": "m", "type": "nominal", "scale": {"domain": ["DFT", "DMFT"], "range": ["#000000", "#ff0000"]}},
   "detail": {"field": "s", "type": "nominal"}
 },
 "layer": [
  {"transform": [{"filter": "datum.p === 'b' && datum.m === 'DFT'"}], "mark": {"type": "line", "strokeWidth": 2},
   "encoding": {
    "x": {"field": "x", "type": "quantitative", "scale": {"domain": [-7, 3], "nice": false, "zero": false},
      "axis": {"values": [-7,-6,-5,-4,-3,-2,-1,0,1,2,3], "labels": false, "title": null, "gridDash": [8, 86.5, 8, 500]}},
    "y": {"field": "y", "type": "quantitative", "scale": {"domain": [-4, 4], "nice": false, "zero": false},
      "axis": {"values": [-4,-2,0,2], "labelExpr": "'' + datum.value", "title": "DOS (eV⁻¹)", "labelPadding": 5, "titlePadding": 8, "gridDash": [7, 355, 7, 800]}}
   }},
  {"transform": [{"filter": "datum.p === 'b' && datum.m === 'DMFT'"}], "mark": {"type": "line", "strokeWidth": 2},
   "encoding": {
    "x": {"field": "x", "type": "quantitative", "scale": {"domain": [-7, 3], "nice": false, "zero": false},
      "axis": {"orient": "top", "values": [-6.5,-5.5,-4.5,-3.5,-2.5,-1.5,-0.5,0.5,1.5,2.5], "labels": false, "title": null, "gridDash": [4, 94.5, 4, 500]}},
    "y": {"field": "y", "type": "quantitative", "scale": {"domain": [-4, 4], "nice": false, "zero": false},
      "axis": {"orient": "right", "values": [-3,-1,1,3], "labels": false, "title": null, "gridDash": [4, 361, 4, 800]}}
   }},
  {"data": {"values": [{}]}, "mark": {"type": "rule", "color": "black", "strokeWidth": 1.5, "strokeDash": [2, 3]}, "encoding": {"x": {"datum": 0, "axis": null}, "color": {"value": "black"}, "detail": {"value": 1}}},
  {"data": {"values": [{}]}, "mark": {"type": "text", "font": "Liberation Serif", "fontSize": 14, "align": "left", "baseline": "middle", "color": "black"}, "encoding": {"x": {"datum": -6.35, "axis": null}, "y": {"datum": 1.9, "axis": null}, "text": {"value": "b)"}, "color": {"value": "black"}, "detail": {"value": 1}}}
 ],
 "resolve": {"axis": {"x": "independent", "y": "independent"}}
},
{"width": 369, "height": 102.5,
 "encoding": {
   "color": {"field": "m", "type": "nominal", "scale": {"domain": ["DFT", "DMFT"], "range": ["#000000", "#ff0000"]}},
   "detail": {"field": "s", "type": "nominal"}
 },
 "layer": [
  {"transform": [{"filter": "datum.p === 'c' && datum.m === 'DFT'"}], "mark": {"type": "line", "strokeWidth": 2},
   "encoding": {
    "x": {"field": "x", "type": "quantitative", "scale": {"domain": [-7, 3], "nice": false, "zero": false},
      "axis": {"values": [-7,-6,-5,-4,-3,-2,-1,0,1,2,3], "labelExpr": "'' + datum.value", "title": "E-EF (eV)", "labelPadding": 4, "titlePadding": 1, "gridDash": [8, 86.5, 8, 500]}},
    "y": {"field": "y", "type": "quantitative", "scale": {"domain": [-4, 4], "nice": false, "zero": false},
      "axis": {"values": [-4,-2,0,2], "labelExpr": "'' + datum.value", "title": "DOS (eV⁻¹)", "labelPadding": 5, "titlePadding": 8, "gridDash": [7, 355, 7, 800]}}
   }},
  {"transform": [{"filter": "datum.p === 'c' && datum.m === 'DMFT'"}], "mark": {"type": "line", "strokeWidth": 2},
   "encoding": {
    "x": {"field": "x", "type": "quantitative", "scale": {"domain": [-7, 3], "nice": false, "zero": false},
      "axis": {"orient": "top", "values": [-6.5,-5.5,-4.5,-3.5,-2.5,-1.5,-0.5,0.5,1.5,2.5], "labels": false, "title": null, "gridDash": [4, 94.5, 4, 500]}},
    "y": {"field": "y", "type": "quantitative", "scale": {"domain": [-4, 4], "nice": false, "zero": false},
      "axis": {"orient": "right", "values": [-3,-1,1,3], "labels": false, "title": null, "gridDash": [4, 361, 4, 800]}}
   }},
  {"data": {"values": [{}]}, "mark": {"type": "rule", "color": "black", "strokeWidth": 1.5, "strokeDash": [2, 3]}, "encoding": {"x": {"datum": 0, "axis": null}, "color": {"value": "black"}, "detail": {"value": 1}}},
  {"data": {"values": [{}]}, "mark": {"type": "text", "font": "Liberation Serif", "fontSize": 14, "align": "left", "baseline": "middle", "color": "black"}, "encoding": {"x": {"datum": -6.35, "axis": null}, "y": {"datum": 1.9, "axis": null}, "text": {"value": "c)"}, "color": {"value": "black"}, "detail": {"value": 1}}}
 ],
 "resolve": {"axis": {"x": "independent", "y": "independent"}}
}
],
"config": {
 "font": "Liberation Serif",
 "background": "white",
 "view": {"stroke": "black", "strokeWidth": 1.5},
 "axis": {"domain": false, "ticks": false, "grid": true, "gridColor": "black", "gridOpacity": 1, "gridWidth": 1,
   "labelFont": "Liberation Serif", "labelFontSize": 13, "labelColor": "black",
   "titleFont": "Liberation Serif", "titleFontSize": 14, "titleFontWeight": "normal", "titleColor": "black",
   "labelOverlap": false, "labelFlush": false, "labelBound": false}
}
}
